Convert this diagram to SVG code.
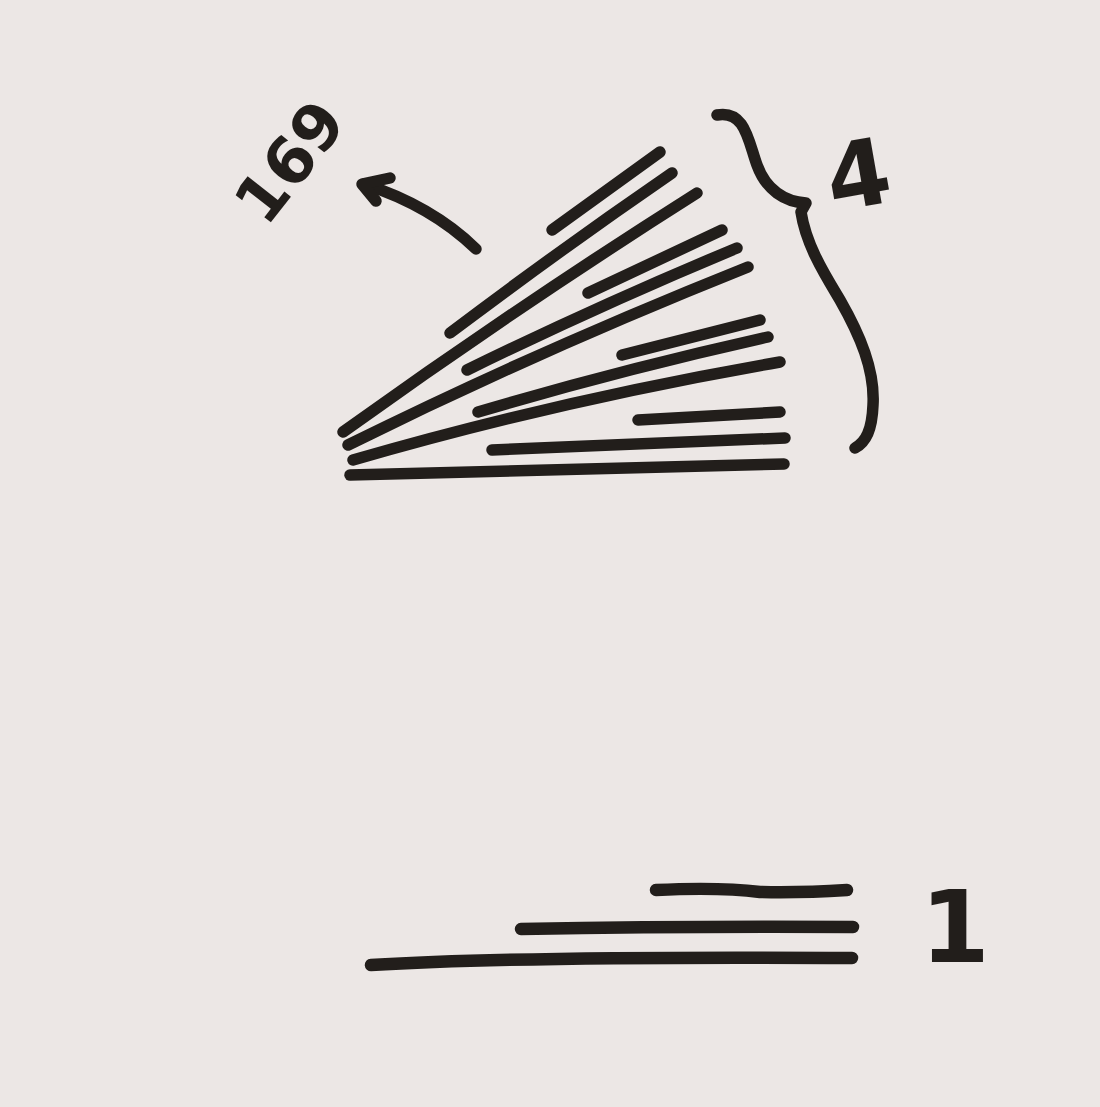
<svg xmlns="http://www.w3.org/2000/svg" width="1100" height="1107" viewBox="0 0 1100 1107">
  <style>
    .ink { fill: none; stroke: #221e1b; stroke-width: 11.5; stroke-linecap: round; stroke-linejoin: round; }
    .thick { stroke-width: 12.5; }
    .label { fill: #221e1b; font-family: "DejaVu Sans", "Liberation Sans", sans-serif; font-weight: bold; }
  </style>
  <rect x="0" y="0" width="1100" height="1107" fill="#ece7e5"/>

  <g id="fan">
    <!-- group 1 (flat) -->
    <path class="ink" d="M350,475 L784,464"/>
    <path class="ink" d="M492,450 L785,438"/>
    <path class="ink" d="M638,420 L780,412"/>
    <!-- group 2 -->
    <path class="ink" d="M353,460 Q560,400 780,362"/>
    <path class="ink" d="M478,412 Q620,370 768,337"/>
    <path class="ink" d="M622,355 L760,320"/>
    <!-- group 3 -->
    <path class="ink" d="M348,445 Q540,350 748,267"/>
    <path class="ink" d="M467,370 Q600,305 737,248"/>
    <path class="ink" d="M588,293 L722,230"/>
    <!-- group 4 -->
    <path class="ink" d="M343,432 Q520,305 697,193"/>
    <path class="ink" d="M450,333 Q560,250 672,173"/>
    <path class="ink" d="M552,230 L660,152"/>
  </g>

  <g id="arrow">
    <path class="ink" d="M476,249 Q432,206 364,184"/>
    <polyline class="ink" points="390,178 362,184 376,201"/>
  </g>

  <g id="brace">
    <path class="ink" d="M717,115 C745,110 748,140 757,165 C766,190 785,202 806,203 L801,212 C806,245 825,275 840,300 C860,335 875,370 873,405 C872,430 866,442 855,448"/>
  </g>

  <g id="label-169">
    <text class="label" font-size="64" text-anchor="middle" transform="translate(290,162) rotate(-52)" y="22">169</text>
  </g>

  <g id="label-4">
    <text class="label" font-size="92" text-anchor="middle" transform="translate(858,174) rotate(-10)" y="33">4</text>
  </g>

  <g id="bottom">
    <path class="ink thick" d="M656,890 Q720,887 760,892 Q800,893 847,890"/>
    <path class="ink thick" d="M521,929 Q690,926 853,927"/>
    <path class="ink thick" d="M371,965 Q520,956 852,958"/>
  </g>

  <g id="label-1">
    <text class="label" font-size="100" text-anchor="middle" x="955" y="962">1</text>
  </g>
</svg>
